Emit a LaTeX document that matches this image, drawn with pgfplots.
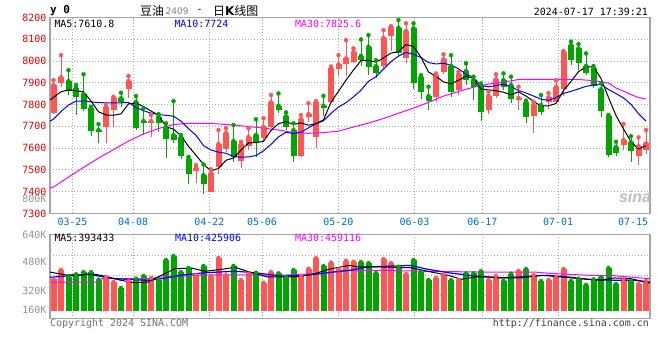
\documentclass[border=0pt]{standalone}
\usepackage{pgfplots}
\pgfplotsset{compat=1.18}
\usepackage{pgfplotstable}
\usepackage{fontspec}
\setmainfont{DejaVu Sans Mono}
\setmonofont{DejaVu Sans Mono}
\newfontfamily\cjk{Noto Sans CJK SC}
\newfontfamily\dvs{DejaVu Sans}
\newfontfamily\sinaf{Liberation Sans}
\definecolor{cred}{RGB}{255,85,85}
\definecolor{cgreen}{RGB}{0,165,0}
\definecolor{gridc}{RGB}{170,170,170}
\definecolor{framec}{RGB}{165,165,165}
\definecolor{lblred}{RGB}{230,0,0}
\definecolor{lblblue}{RGB}{0,110,210}
\definecolor{ma10c}{RGB}{0,0,255}
\definecolor{ma30c}{RGB}{255,0,255}
\definecolor{vgray}{RGB}{150,150,150}

% candles: index, open, high, low, close, volume (K)
\pgfplotstableread{
i O H L C V
0 7760 7912 7758 7890 359
1 7897 8027 7882 7925 418
7 7698 7798 7625 7790 372
8 7775 7836 7695 7829 342
10 7870 7931 7829 7908 347
13 7714 7752 7652 7724 368
19 7496 7522 7438 7510 385
21 7400 7502 7398 7487 380
22 7514 7683 7480 7619 493
23 7596 7691 7583 7670 385
25 7542 7629 7510 7619 355
26 7611 7691 7591 7651 395
28 7648 7737 7629 7698 338
29 7698 7844 7694 7810 405
33 7564 7752 7560 7733 380
34 7744 7806 7718 7756 426
35 7652 7816 7599 7810 493
37 7810 7975 7808 7969 464
38 7963 8027 7931 7985 422
39 7985 8096 7932 8012 476
40 7997 8058 7990 8042 470
44 7975 8142 7970 8107 487
45 8115 8160 8046 8155 462
47 8012 8173 7989 8138 393
51 7836 7943 7810 7936 368
52 7951 8031 7939 8009 388
54 7867 7951 7844 7939 355
58 7775 7860 7755 7841 355
59 7840 7939 7830 7917 380
62 7821 7882 7775 7831 412
64 7747 7813 7670 7798 385
66 7813 7852 7778 7833 355
67 7813 7912 7806 7882 374
68 7870 8046 7839 8042 424
76 7614 7711 7591 7637 359
78 7564 7649 7522 7609 330
79 7590 7683 7573 7622 349
}\redk
\pgfplotstableread{
i O H L C V
2 7908 7958 7844 7863 374
3 7877 7890 7752 7836 391
4 7848 7939 7772 7779 405
5 7783 7790 7655 7680 405
6 7683 7710 7622 7676 357
9 7829 7854 7790 7813 305
11 7813 7839 7683 7691 363
12 7724 7783 7660 7716 380
14 7744 7756 7675 7717 353
15 7695 7714 7556 7642 481
16 7660 7816 7622 7637 506
17 7650 7660 7548 7564 405
18 7550 7560 7435 7481 430
20 7476 7525 7390 7435 443
24 7632 7706 7537 7560 443
27 7660 7733 7560 7626 401
30 7795 7851 7760 7777 397
31 7747 7764 7683 7695 374
32 7683 7714 7537 7565 418
36 7795 7840 7749 7785 443
41 8024 8099 7977 8004 468
42 8066 8119 7936 7974 462
43 7977 8004 7920 7943 399
46 8153 8188 8020 8035 439
48 8150 8173 7870 7900 481
49 7928 7935 7824 7859 407
50 7839 7882 7775 7817 355
53 7978 8027 7836 7856 355
55 7954 7989 7890 7913 397
56 7913 7928 7821 7882 397
57 7890 7897 7724 7764 410
60 7913 7943 7867 7879 349
61 7890 7928 7806 7824 395
63 7813 7818 7717 7744 424
65 7798 7844 7752 7767 349
69 8073 8089 7981 8007 349
70 8058 8078 7958 7992 363
71 7977 8035 7936 7943 324
72 7969 7977 7874 7886 359
73 7871 7897 7744 7772 374
74 7747 7752 7558 7568 430
75 7606 7629 7564 7579 330
77 7626 7655 7537 7588 349
}\greenk
\pgfplotstableread{
i M
-0.47 7821
0 7833
1 7859
2 7867
3 7863
4 7858.6
5 7816.6
6 7766.8
7 7752.2
8 7750.8
9 7757.6
10 7803.2
11 7806.2
12 7791.4
13 7770.4
14 7751.2
15 7698
16 7687.2
17 7656.8
18 7608.2
19 7566.8
20 7525.4
21 7495.4
22 7506.4
23 7544.2
24 7554.2
25 7591
26 7623.8
27 7625.2
28 7630.8
29 7680.8
30 7712.4
31 7721.2
32 7709
33 7716
34 7705.2
35 7711.8
36 7729.8
37 7810.6
38 7861
39 7912.2
40 7958.6
41 8002.4
42 8003.4
43 7995
44 8014
45 8036.6
46 8042.8
47 8075.6
48 8067
49 8017.4
50 7949.8
51 7930
52 7904.2
53 7895.4
54 7911.4
55 7930.6
56 7919.8
57 7870.8
58 7867.8
59 7863.4
60 7856.6
61 7845
62 7858.4
63 7839
64 7815.2
65 7792.8
66 7794.6
67 7804.8
68 7864.4
69 7906.2
70 7951.2
71 7973.2
72 7974
73 7920
74 7832.2
75 7749.6
76 7688.4
77 7628.8
78 7596.2
79 7610.8
}\mafive
\pgfplotstableread{
i M
-0.47 7724
0 7733
1 7768
2 7798
3 7815
4 7817
5 7812
6 7809
7 7808
8 7808
9 7808.1
10 7809.9
11 7786.5
12 7771.8
13 7760.6
14 7754.4
15 7750.6
16 7746.7
17 7724.1
18 7689.3
19 7659
20 7611.7
21 7591.3
22 7581.6
23 7576.2
24 7560.5
25 7558.2
26 7559.6
27 7565.8
28 7587.5
29 7617.5
30 7651.7
31 7672.5
32 7667.1
33 7673.4
34 7693
35 7712.1
36 7725.5
37 7759.8
38 7788.5
39 7808.7
40 7835.2
41 7866.1
42 7907
43 7928
44 7963.1
45 7997.6
46 8022.6
47 8039.5
48 8031
49 8015.7
50 7993.2
51 7986.4
52 7989.9
53 7981.2
54 7964.4
55 7940.2
56 7924.9
57 7887.5
58 7881.6
59 7887.4
60 7893.6
61 7882.4
62 7864.6
63 7853.4
64 7839.3
65 7824.7
66 7819.8
67 7831.6
68 7851.7
69 7860.7
70 7872
71 7883.9
72 7889.4
73 7892.2
74 7869.2
75 7850.4
76 7830.8
77 7801.4
78 7758.1
79 7724
}\maten
\pgfplotstableread{
i M
-0.47 7417
0 7421
2 7467
4 7511
6 7554
8 7593
10 7632
12 7665
14 7690
16 7708
18 7714
20 7714
22 7711
24 7706
26 7699
28 7692
30 7683
32 7671
34 7668
36 7671
38 7678
40 7697
42 7715
44 7736
46 7760
48 7784
50 7810
52 7839
54 7860
56 7880
58 7894
60 7903
62 7915
64 7916
66 7916
68 7916
70 7915
72 7910
74 7899
75 7876
76 7862
77 7846
78 7832
79 7825.6
}\mathirty
\pgfplotstableread{
i M
-0.47 405
1.5 388
3.7 385
5.0 395
6.8 380
9.0 353
10.8 338
12.6 342
14.4 385
16.2 426
18.4 430
20.2 410
22.4 422
24.2 435
26.8 395
28.6 374
31.3 374
33.0 378
34.8 395
37.0 426
39.5 447
40.6 437
43.7 437
47.7 432
50.4 405
52.6 385
54.4 359
56.2 374
58.0 374
60.2 368
62.4 368
65.0 385
67.7 374
70.4 363
73.0 353
74.8 368
77.0 363
79.5 336
}\vfive
\pgfplotstableread{
i M
-0.47 372
4.6 391
8.2 363
12.6 353
14.4 363
17.0 385
20.2 401
24.2 410
26.8 401
30.4 380
33.9 385
36.6 401
39.5 416
41.9 437
47.7 447
49.5 426
52.6 401
56.2 380
59.7 368
63.3 378
65.9 385
68.6 374
71.3 359
74.8 353
77.5 353
79.5 342
}\vten
\pgfplotstableread{
i M
-0.47 341
5.9 341
6.4 363
12.6 363
14.4 374
21.5 388
25.9 388
30.4 385
34.8 395
39.3 416
43.7 416
49.5 410
57.0 405
64.1 405
66.8 395
71.3 385
74.8 382
79.5 363
}\vthirty

\pgfplotsset{
  panel/.style={
    scale only axis, width=600bp,
    xmin=-0.4667, xmax=79.5333,
    axis line style={line width=1.5bp, draw=framec},
    major tick length=0pt,
    major grid style={gridc, line width=1bp, dash pattern=on 1bp off 2bp},
    xmajorgrids=true,
    xtick={2.533,10.627,20.773,27.8,37.973,48.133,57.173,67.293},
    tick label style={font=\fontsize{10}{12}\selectfont},
  },
  wick/.style={only marks, mark=none, forget plot,
    error bars/.cd, y dir=minus, y explicit, error mark=none,
    error bar style={line width=1bp}},
  body/.style={only marks, mark=none, forget plot,
    error bars/.cd, y dir=minus, y explicit, error mark=none,
    error bar style={line width=6bp}},
}

\begin{document}
\begin{tikzpicture}
\fill[white] (0,0) rectangle (660bp,360bp);
\path[use as bounding box] (0,0) rectangle (660bp,360bp);

% ---------- price panel ----------
\begin{axis}[panel, at={(50bp,146.6bp)}, anchor=south west, height=195.9bp,
  ymin=7300, ymax=8200,
  ymajorgrids=true,
  ytick={7300,7400,7500,7600,7700,7800,7900,8000,8100,8200},
  yticklabels={7300,7400,7500,7600,7700,7800,7900,8000,8100,8200},
  yticklabel style={anchor=east, inner sep=0pt, xshift=-3.5bp, text=lblred},
  xticklabels={03-25,04-08,04-22,05-06,05-20,06-03,06-17,07-01},
  xticklabel style={anchor=center, inner sep=0pt, yshift=-8bp, text=lblblue},
  extra x ticks={77.267}, extra x tick labels={07-15},
  extra x tick style={grid=none},
]
\addplot[cred, wick] table[x=i, y=H, y error minus expr=\thisrow{H}-\thisrow{L}] {\redk};
\addplot[cgreen, wick] table[x=i, y=H, y error minus expr=\thisrow{H}-\thisrow{L}] {\greenk};
\addplot[cred, body] table[x=i, y=C, y error minus expr=\thisrow{C}-\thisrow{O}] {\redk};
\addplot[cgreen, body] table[x=i, y=O, y error minus expr=\thisrow{O}-\thisrow{C}] {\greenk};
\addplot[ma30c, line width=1bp, mark=none] table[x=i, y=M] {\mathirty};
\addplot[ma10c, line width=1bp, mark=none] table[x=i, y=M] {\maten};
\addplot[black, line width=1bp, mark=none] table[x=i, y=M] {\mafive};
\end{axis}

% ---------- volume panel ----------
\begin{axis}[panel, at={(50bp,41.3bp)}, anchor=south west, height=84bp,
  ymin=111.6, ymax=640,
  ytick={166,286,468,640},
  yticklabels={160K,320K,480K,640K},
  yticklabel style={anchor=east, inner sep=0pt, xshift=-3.5bp, text=vgray},
  xticklabels={,,,,,,,},
  xticklabel style={opacity=0},
  extra y ticks={258.8,384.6,510.4}, extra y tick labels={},
  extra y tick style={grid=major},
]
\addplot[cred, body] table[x=i, y=V, y error minus expr=\thisrow{V}-160] {\redk};
\addplot[cgreen, body] table[x=i, y=V, y error minus expr=\thisrow{V}-160] {\greenk};
\addplot[ma30c, line width=1bp, mark=none] table[x=i, y=M] {\vthirty};
\addplot[ma10c, line width=1.2bp, mark=none] table[x=i, y=M] {\vten};
\addplot[black, line width=1bp, mark=none] table[x=i, y=M] {\vfive};
\end{axis}

% ---------- texts ----------
\begin{scope}[every node/.style={inner sep=0pt, font=\fontsize{10}{12}\selectfont}]
\node[anchor=west, font=\fontsize{11}{12}\selectfont\bfseries] at (50bp,349bp) {y 0};
\node[anchor=west, font=\fontsize{12}{14}\selectfont\cjk] at (140bp,349bp) {豆油};
\node[anchor=west, font=\fontsize{9}{11}\selectfont\dvs, text=gray] at (165.5bp,349bp) {2409};
\node[anchor=center] at (199.5bp,349bp) {-};
\node[anchor=west, font=\fontsize{12}{14}\selectfont\cjk] at (213bp,349bp) {日{\dvs\bfseries K}线图};
\node[anchor=east] at (648bp,348.3bp) {2024-07-17 17:39:21};
\node[anchor=west] at (54.3bp,336.3bp) {MA5:7610.8};
\node[anchor=west, text=ma10c] at (174.3bp,336.3bp) {MA10:7724};
\node[anchor=west, text=ma30c] at (295bp,336.3bp) {MA30:7825.6};
\node[anchor=east, text=vgray] at (46.5bp,160.7bp) {800K};
\node[anchor=west] at (54.3bp,121.7bp) {MA5:393433};
\node[anchor=west, text=ma10c] at (175bp,121.7bp) {MA10:425906};
\node[anchor=west, text=ma30c] at (295bp,121.7bp) {MA30:459116};
\node[anchor=west, text=black!55] at (50bp,36bp) {Copyright 2024 SINA.COM};
\node[anchor=east, text=black!75] at (649bp,36bp) {http://finance.sina.com.cn};
\node[anchor=center, text=black!25, font=\fontsize{16}{18}\selectfont\sinaf\bfseries\itshape] at (635bp,163bp) {sina};
\end{scope}
\end{tikzpicture}
\end{document}
